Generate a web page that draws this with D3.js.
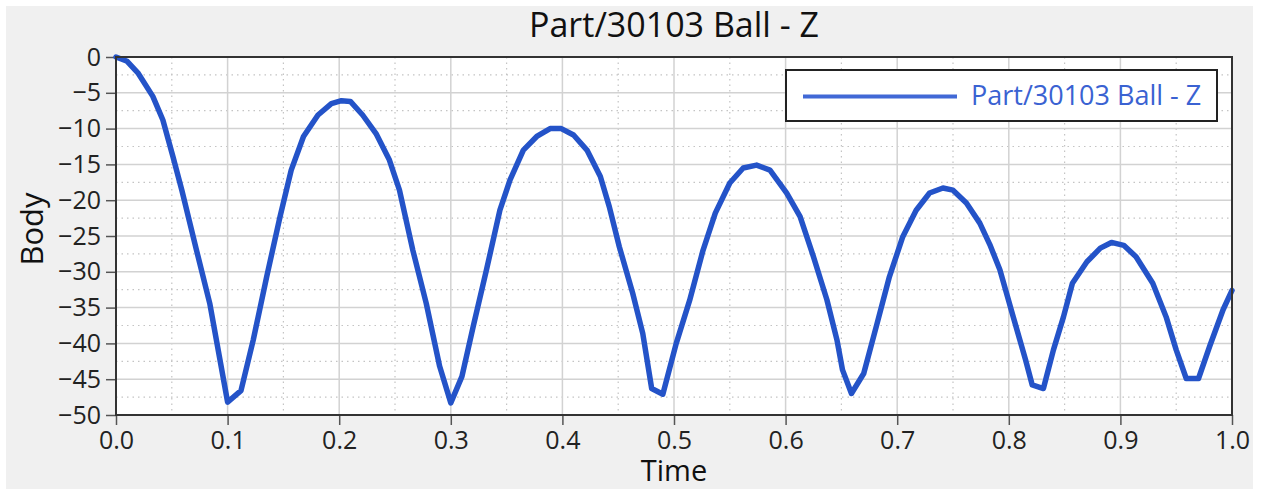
<!DOCTYPE html>
<html>
<head>
<meta charset="utf-8">
<script src="https://cdn.jsdelivr.net/npm/d3@7"></script>
<style>
  html, body { margin: 0; padding: 0; background: #ffffff; }
  svg { display: block; }
  text { font-family: "Open Sans", "Noto Sans", sans-serif; }
</style>
</head>
<body>
<svg id="chart" width="1266" height="489"></svg>
<script>
const chartTitle = "Part/30103 Ball - Z";
const seriesName = "Part/30103 Ball - Z";
const xLabel = "Time";
const yLabel = "Body";

const time = [0, 0.01, 0.02, 0.033, 0.042, 0.051, 0.059, 0.072, 0.084, 0.1,
  0.112, 0.123, 0.135, 0.147, 0.157, 0.168, 0.181, 0.193, 0.202, 0.21,
  0.221, 0.233, 0.245, 0.254, 0.266, 0.278, 0.29, 0.3, 0.31, 0.32,
  0.332, 0.344, 0.353, 0.365, 0.377, 0.389, 0.399, 0.41, 0.422, 0.434,
  0.442, 0.451, 0.463, 0.472, 0.48, 0.49, 0.502, 0.514, 0.526, 0.537,
  0.55, 0.562, 0.574, 0.586, 0.601, 0.613, 0.625, 0.637, 0.646, 0.651,
  0.659, 0.67, 0.682, 0.693, 0.705, 0.717, 0.729, 0.741, 0.75, 0.762,
  0.774, 0.783, 0.792, 0.804, 0.815, 0.821, 0.831, 0.84, 0.849, 0.857,
  0.87, 0.882, 0.892, 0.903, 0.914, 0.929, 0.941, 0.95, 0.959, 0.97,
  0.98, 0.992, 1.0];
const bodyZ = [0, -0.6, -2.3, -5.5, -8.8, -13.9, -18.6, -26.9, -34.4, -48.2,
  -46.6, -39.5, -30.7, -22.3, -15.8, -11.1, -8.1, -6.5, -6.1, -6.2,
  -8.1, -10.7, -14.4, -18.6, -27.0, -34.4, -43.2, -48.3, -44.6, -37.7,
  -29.7, -21.4, -17.2, -13.0, -11.1, -10.0, -10.0, -10.9, -13.0, -16.7,
  -20.9, -26.5, -33.0, -38.6, -46.3, -47.1, -40.0, -34.0, -27.0, -21.8,
  -17.6, -15.5, -15.1, -15.8, -19.0, -22.3, -27.9, -33.9, -39.5, -43.7,
  -47.0, -44.2, -37.2, -30.7, -25.1, -21.4, -19.0, -18.3, -18.6, -20.4,
  -23.2, -26.2, -29.7, -36.3, -42.3, -45.8, -46.3, -40.9, -36.3, -31.6,
  -28.6, -26.7, -25.9, -26.3, -27.9, -31.6, -36.3, -40.9, -44.9, -44.9,
  -40.4, -35.3, -32.6];

const xTicks = [0, 0.1, 0.2, 0.3, 0.4, 0.5, 0.6, 0.7, 0.8, 0.9, 1.0];
const yTicks = [0, -5, -10, -15, -20, -25, -30, -35, -40, -45, -50];
const xMinor = [0.05, 0.15, 0.25, 0.35, 0.45, 0.55, 0.65, 0.75, 0.85, 0.95];
const yMinor = [-2.5, -7.5, -12.5, -17.5, -22.5, -27.5, -32.5, -37.5, -42.5, -47.5];

const svg = d3.select("#chart");
const m = { left: 116, right: 1232, top: 57, bottom: 415 };

svg.append("rect").attr("x", 6).attr("y", 6).attr("width", 1247).attr("height", 483).attr("fill", "#f0f0f0");

const x = d3.scaleLinear().domain([0, 1]).range([m.left, m.right]);
const y = d3.scaleLinear().domain([-50, 0]).range([m.bottom, m.top]);

svg.append("rect").attr("x", m.left).attr("y", m.top)
  .attr("width", m.right - m.left).attr("height", m.bottom - m.top).attr("fill", "#ffffff");

const grid = svg.append("g");
grid.selectAll(".vminor").data(xMinor).join("line")
  .attr("x1", d => x(d)).attr("x2", d => x(d)).attr("y1", m.top).attr("y2", m.bottom)
  .attr("stroke", "#c4c4c4").attr("stroke-width", 1.2).attr("stroke-dasharray", "1.5,4");
grid.selectAll(".hminor").data(yMinor).join("line")
  .attr("y1", d => y(d)).attr("y2", d => y(d)).attr("x1", m.left).attr("x2", m.right)
  .attr("stroke", "#c4c4c4").attr("stroke-width", 1.2).attr("stroke-dasharray", "1.5,4");
grid.selectAll(".vmajor").data(xTicks).join("line")
  .attr("x1", d => x(d)).attr("x2", d => x(d)).attr("y1", m.top).attr("y2", m.bottom)
  .attr("stroke", "#d2d2d2").attr("stroke-width", 1.5);
grid.selectAll(".hmajor").data(yTicks).join("line")
  .attr("y1", d => y(d)).attr("y2", d => y(d)).attr("x1", m.left).attr("x2", m.right)
  .attr("stroke", "#d2d2d2").attr("stroke-width", 1.5);

// axes
const xAxis = d3.axisBottom(x).tickValues(xTicks).tickFormat(d3.format(".1f")).tickSize(10).tickPadding(6);
const yAxis = d3.axisLeft(y).tickValues(yTicks).tickFormat(d3.format("d")).tickSize(10).tickPadding(5);

const gx = svg.append("g").attr("transform", `translate(0,${m.bottom})`).call(xAxis);
const gy = svg.append("g").attr("transform", `translate(${m.left},0)`).call(yAxis);
[gx, gy].forEach(g => {
  g.select(".domain").remove();
  g.selectAll(".tick line").attr("stroke", "#555").attr("stroke-width", 1.5);
  g.selectAll(".tick text").attr("fill", "#222").style("font-size", "25px")
    .style("font-family", "'Open Sans', 'Noto Sans', sans-serif");
});

// line
const pts = time.map((t, i) => [t, bodyZ[i]]);
svg.append("path").datum(pts)
  .attr("fill", "none").attr("stroke", "#2453c8").attr("stroke-width", 5.5)
  .attr("stroke-linejoin", "round").attr("stroke-linecap", "round")
  .attr("d", d3.line().x(d => x(d[0])).y(d => y(d[1])));

// frame
svg.append("rect").attr("x", m.left).attr("y", m.top)
  .attr("width", m.right - m.left).attr("height", m.bottom - m.top)
  .attr("fill", "none").attr("stroke", "#333").attr("stroke-width", 2);

// legend
const lg = svg.append("g");
lg.append("rect").attr("x", 786).attr("y", 70).attr("width", 431).attr("height", 51)
  .attr("fill", "#ffffff").attr("stroke", "#222").attr("stroke-width", 2);
lg.append("line").attr("x1", 803).attr("x2", 957).attr("y1", 96.5).attr("y2", 96.5)
  .attr("stroke", "#4169d6").attr("stroke-width", 4);
lg.append("text").attr("x", 971).attr("y", 105).text(seriesName)
  .attr("fill", "#3a62d2").style("font-size", "27px");

// title and labels
svg.append("text").attr("x", (m.left + m.right) / 2).attr("y", 37).attr("text-anchor", "middle")
  .text(chartTitle).attr("fill", "#111").style("font-size", "34px");
svg.append("text").attr("x", (m.left + m.right) / 2).attr("y", 481).attr("text-anchor", "middle")
  .text(xLabel).attr("fill", "#111").style("font-size", "29px");
svg.append("text").attr("transform", `translate(43,229) rotate(-90)`).attr("text-anchor", "middle")
  .text(yLabel).attr("fill", "#111").style("font-size", "31px");
</script>
</body>
</html>
